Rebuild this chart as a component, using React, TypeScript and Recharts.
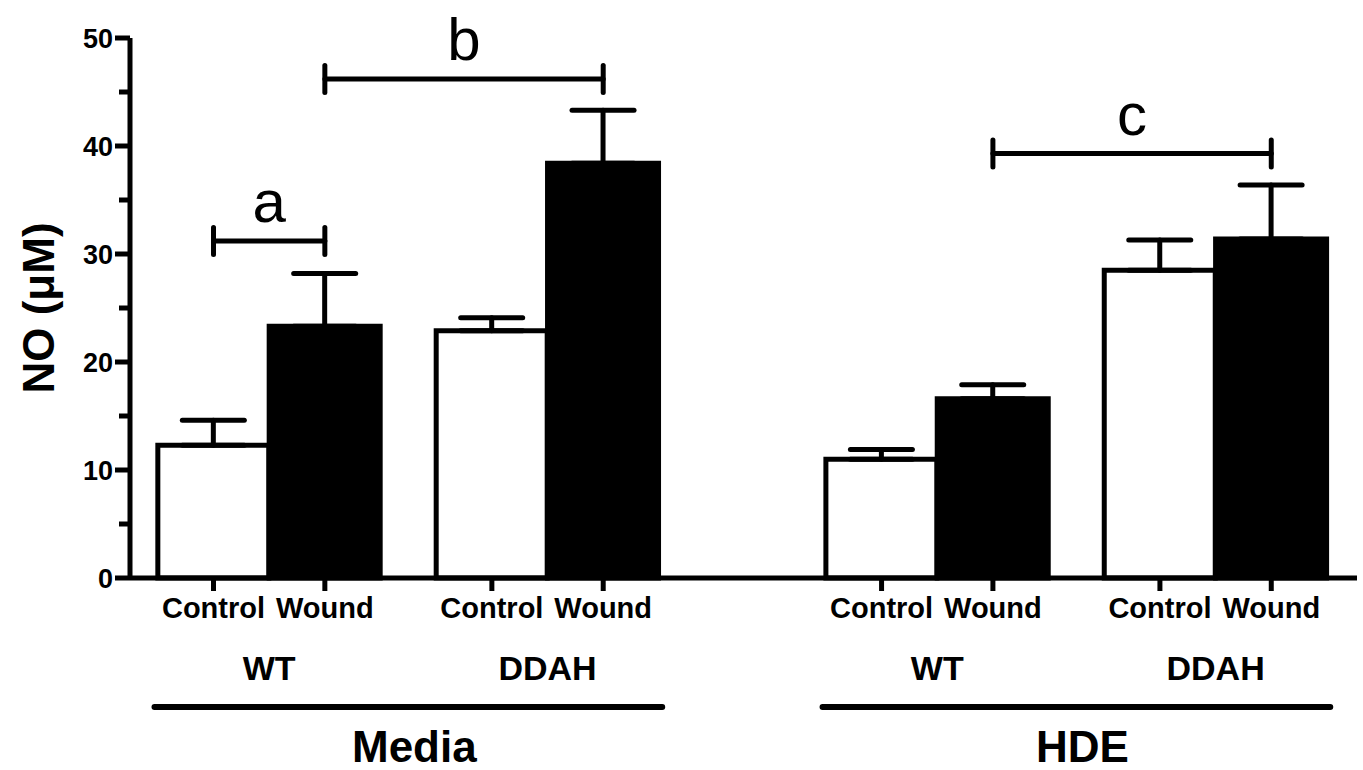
import React from "react";
import {
  ComposedChart,
  Bar,
  Cell,
  XAxis,
  YAxis,
  ErrorBar,
  ReferenceLine,
} from "recharts";

const panels = ["Media", "HDE"];
const genotypes = ["WT", "DDAH"];
const treatments = ["Control", "Wound"];
// NO (uM), order: Media WT C/W, Media DDAH C/W, HDE WT C/W, HDE DDAH C/W
const noMeans = [12.3, 23.3, 22.9, 38.4, 11.0, 16.6, 28.5, 31.4];
const noErrors = [2.3, 4.9, 1.2, 4.9, 0.9, 1.3, 2.8, 5.0];
const yTicks = [0, 5, 10, 15, 20, 25, 30, 35, 40, 45, 50];
// significance brackets: bar index -> bar index, height in uM
const bracketFrom = [0, 1, 5];
const bracketTo = [1, 3, 7];
const bracketY = [31.2, 46.2, 39.3];
const bracketLabels = ["a", "b", "c"];

const W = 1363;
const H = 770;
const FONT = '"Liberation Sans", Arial, Helvetica, sans-serif';
const MARGIN = { top: 38, right: 6, bottom: 0, left: 0 };
const Y_W = 130;
const X_DOMAIN: [number, number] = [-0.75, 10.27];
const GROUP_STEP = 2.5;
const PANEL_STEP = 6;
const UNIT = (W - Y_W - MARGIN.right) / (X_DOMAIN[1] - X_DOMAIN[0]);
const TICK_HALF = 1.25;

const posOf = (i: number) =>
  Math.floor(i / 4) * PANEL_STEP + (Math.floor(i / 2) % 2) * GROUP_STEP + (i % 2);

const data = noMeans.map((v, i) => ({
  x: posOf(i),
  value: v,
  err: [0, noErrors[i]],
}));

const barTicks = data.map((d) => d.x);
const groupTicks: number[] = [];
const groupNames: string[] = [];
panels.forEach((_, p) =>
  genotypes.forEach((g, gi) => {
    groupTicks.push(p * PANEL_STEP + gi * GROUP_STEP + 0.5);
    groupNames.push(g);
  })
);
const panelTicks = panels.map((_, p) => p * PANEL_STEP + (GROUP_STEP + 1) / 2);

const nearest = (arr: number[], v: number) => {
  let best = 0;
  arr.forEach((a, i) => {
    if (Math.abs(a - v) < Math.abs(arr[best] - v)) best = i;
  });
  return best;
};

const BarTick = (props: any) => {
  const { x, y, payload } = props;
  const i = nearest(barTicks, payload.value);
  return (
    <text x={x} y={y + 27} textAnchor="middle" fontSize={29} fontWeight="bold" fontFamily={FONT} fill="#000">
      {treatments[i % 2]}
    </text>
  );
};

const GroupTick = (props: any) => {
  const { x, y, payload } = props;
  const i = nearest(groupTicks, payload.value);
  return (
    <text x={x} y={y + 52} textAnchor="middle" fontSize={34} fontWeight="bold" fontFamily={FONT} fill="#000">
      {groupNames[i]}
    </text>
  );
};

const PanelTick = (props: any) => {
  const { x, y, payload } = props;
  const i = nearest(panelTicks, payload.value);
  const half = 2.28 * UNIT;
  return (
    <g>
      <line x1={x - half} x2={x + half} y1={y + 29} y2={y + 29} stroke="#000" strokeWidth={6} strokeLinecap="round" />
      <text x={x + 6} y={y + 84} textAnchor="middle" fontSize={44} fontWeight="bold" fontFamily={FONT} fill="#000">
        {panels[i]}
      </text>
    </g>
  );
};

const YTick = (props: any) => {
  const { x, y, payload } = props;
  const major = payload.value % 10 === 0;
  return (
    <g>
      <line x1={x - (major ? 15 : 11)} x2={x} y1={y} y2={y} stroke="#000" strokeWidth={5} />
      {major && (
        <text x={x - 17} y={y} dy="0.36em" textAnchor="end" fontSize={27} fontWeight="bold" fontFamily={FONT} fill="#000">
          {payload.value}
        </text>
      )}
    </g>
  );
};

const YLabel = (props: any) => {
  const vb = props.viewBox || { x: 0, y: MARGIN.top, height: 540 };
  const cx = 38;
  const cy = vb.y + vb.height / 2;
  return (
    <text
      x={cx}
      y={cy}
      transform={`rotate(-90, ${cx}, ${cy})`}
      textAnchor="middle"
      dominantBaseline="central"
      fontSize={44}
      fontWeight="bold"
      fontFamily={FONT}
      fill="#000"
    >
      NO (μM)
    </text>
  );
};

export default function App() {
  return (
    <div style={{ position: "absolute", left: 0, top: 0, width: W, height: H, background: "#fff" }}>
      <ComposedChart width={W} height={H} data={data} margin={MARGIN}>
        <XAxis
          xAxisId="bars"
          dataKey="x"
          type="number"
          domain={X_DOMAIN}
          allowDataOverflow
          ticks={barTicks}
          interval={0}
          height={50}
          axisLine={{ stroke: "#000", strokeWidth: 5 }}
          tickLine={{ stroke: "#000", strokeWidth: 5 }}
          tickSize={13}
          tickMargin={0}
          tick={BarTick}
        />
        <XAxis
          xAxisId="groups"
          dataKey="x"
          type="number"
          domain={X_DOMAIN}
          allowDataOverflow
          ticks={groupTicks}
          interval={0}
          height={50}
          axisLine={false}
          tickLine={false}
          tickSize={0}
          tickMargin={0}
          tick={GroupTick}
        />
        <XAxis
          xAxisId="panels"
          dataKey="x"
          type="number"
          domain={X_DOMAIN}
          allowDataOverflow
          ticks={panelTicks}
          interval={0}
          height={92}
          axisLine={false}
          tickLine={false}
          tickSize={0}
          tickMargin={0}
          tick={PanelTick}
        />
        <YAxis
          type="number"
          domain={[0, 50]}
          ticks={yTicks}
          interval={0}
          width={Y_W}
          axisLine={{ stroke: "#000", strokeWidth: 5 }}
          tickLine={false}
          tickSize={0}
          tickMargin={0}
          tick={YTick}
          label={YLabel}
        />
        <Bar xAxisId="bars" dataKey="value" barSize={Math.round(UNIT)} stroke="#000" strokeWidth={5} isAnimationActive={false}>
          {data.map((_, i) => (
            <Cell key={i} fill={i % 2 === 0 ? "#fff" : "#000"} />
          ))}
          <ErrorBar dataKey="err" direction="y" width={31} stroke="#000" strokeWidth={5} strokeLinecap="round" />
        </Bar>
        {bracketLabels.map((lab, k) => {
          const x1 = posOf(bracketFrom[k]);
          const x2 = posOf(bracketTo[k]);
          const y = bracketY[k];
          return (
            <React.Fragment key={lab}>
              <ReferenceLine
                xAxisId="bars"
                segment={[{ x: x1, y }, { x: x2, y }]}
                stroke="#000"
                strokeWidth={5}
                strokeLinecap="round"
                label={{ value: lab, position: "top", offset: 19, fontSize: 60, fill: "#000", fontFamily: FONT }}
              />
              <ReferenceLine
                xAxisId="bars"
                segment={[{ x: x1, y: y - TICK_HALF }, { x: x1, y: y + TICK_HALF }]}
                stroke="#000"
                strokeWidth={5}
                strokeLinecap="round"
              />
              <ReferenceLine
                xAxisId="bars"
                segment={[{ x: x2, y: y - TICK_HALF }, { x: x2, y: y + TICK_HALF }]}
                stroke="#000"
                strokeWidth={5}
                strokeLinecap="round"
              />
            </React.Fragment>
          );
        })}
      </ComposedChart>
    </div>
  );
}
